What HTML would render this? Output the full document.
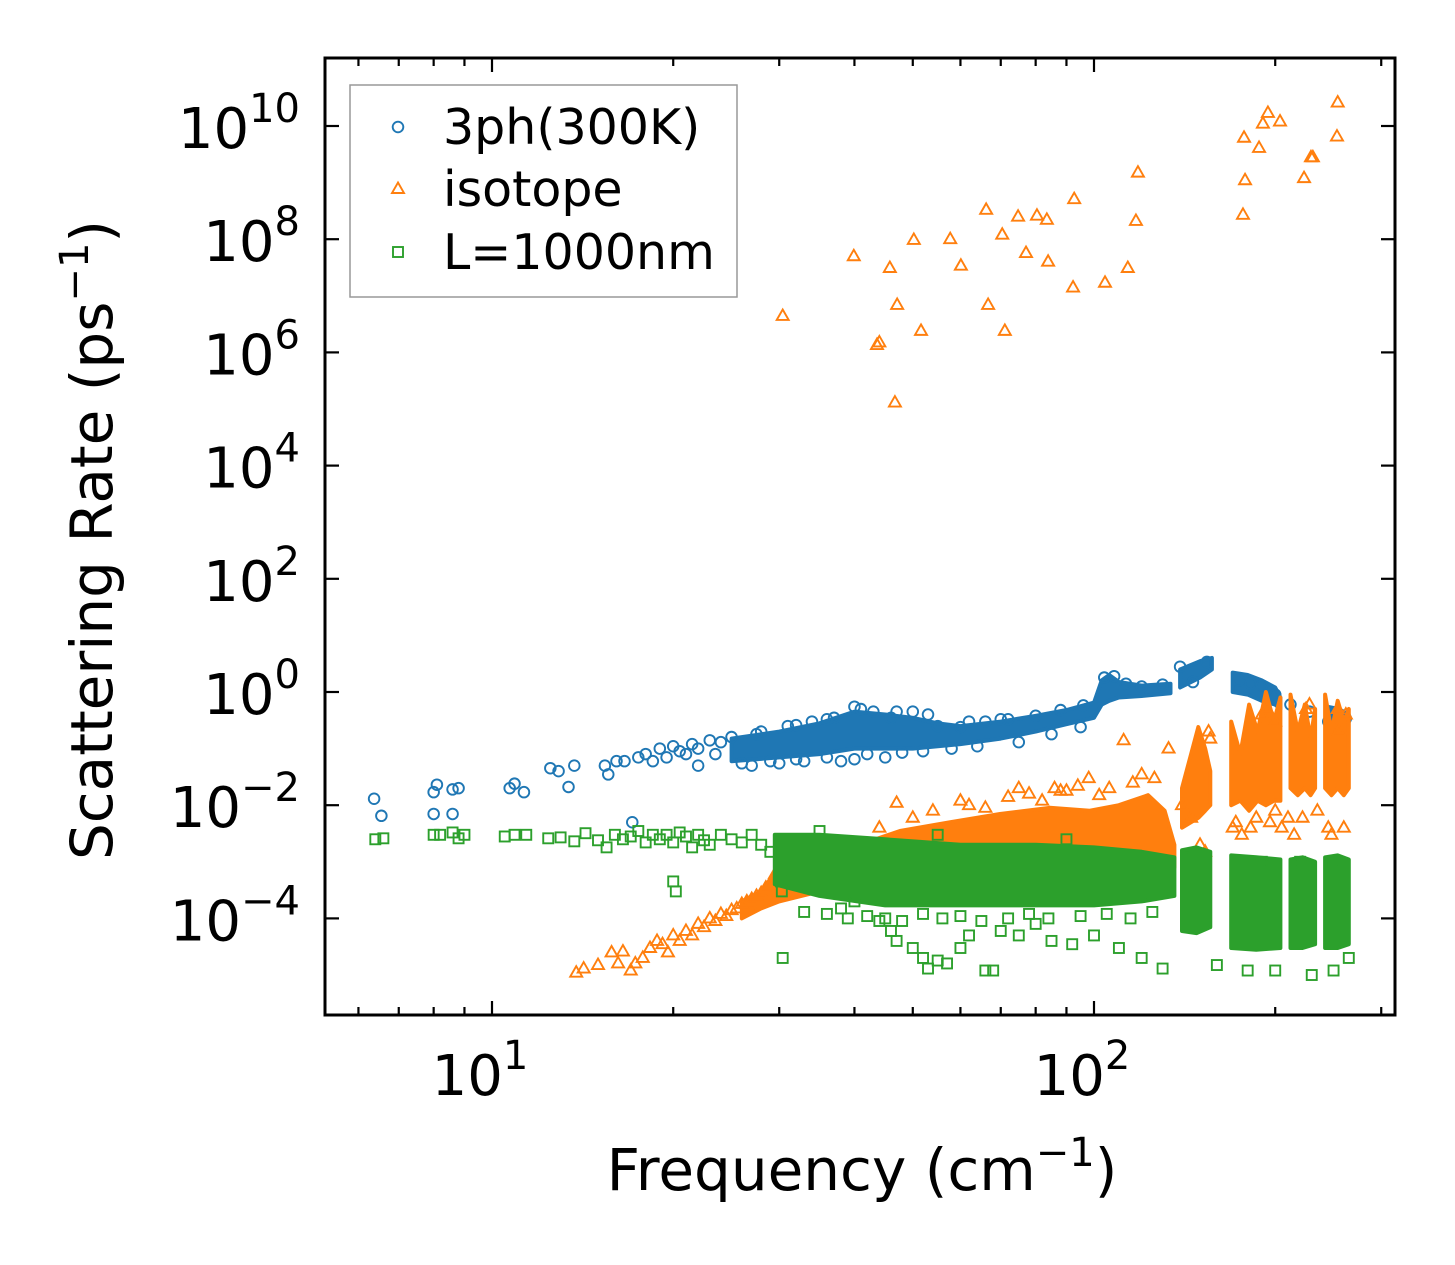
<!DOCTYPE html>
<html><head><meta charset="utf-8"><style>
html,body{margin:0;padding:0;background:#fff;}
svg text{font-family:"DejaVu Sans","Liberation Sans",sans-serif;fill:#000;}
</style></head><body>
<svg id="chart" width="1455" height="1265" viewBox="0 0 1455 1265" xmlns="http://www.w3.org/2000/svg" style="position:absolute;left:0;top:0">
<rect width="1455" height="1265" fill="#fff"/>
<g id="marks"></g>
<g id="axes"></g>
</svg>
<script>
// ---- data ----
const blueF=[6.37,6.55,8.0,8.1,8.0,8.6,8.6,8.8,10.7,10.9,11.3,12.5,12.9,13.4,13.7,15.4,15.6,16.1,16.6,17.1,17.5,18,18.5,19,19.5,20,20.5,21,21.5,22,22,23,23.5,24,27,30,33,38,40,45,25,28,31,34,37,40,43,46,50,55,60,66,72,80,88,96,104,108,113,120,130,139,146,154,174,182,190,200,212,228,245,255,262,
26,29,32,36,42,48,52,58,64,75,85,95,27.5,32,36,41,47,53,62,70];
const blueR=[.013,.0065,.017,.023,.007,.007,.019,.02,.02,.024,.017,.045,.04,.021,.05,.05,.035,.06,.06,.005,.07,.08,.06,.1,.07,.11,.09,.08,.12,.1,.05,.14,.08,.13,.05,.055,.06,.06,.065,.07,.16,.2,.25,.3,.35,.55,.45,.35,.45,.25,.24,.3,.33,.38,.48,.58,1.8,1.9,1.4,1.25,1.35,2.8,1.5,3.4,1.6,1.4,1.3,.9,.6,.45,.3,.36,.34,
.055,.06,.065,.07,.08,.085,.09,.1,.11,.13,.18,.24,.18,.26,.33,.5,.45,.4,.3,.33];
const blueBandF=[[25,30,35,40,45,50,55,60,70,80,90,100,103,106,110,120,134],[139,150,157],[170,180,190,200,204],[244,255,265]];
const blueBandLo=[[.06,.07,.08,.1,.1,.1,.11,.12,.15,.2,.27,.35,.6,.7,.8,.85,.95],[1.2,1.8,2.5],[1.0,.9,.7,.6,.5],[.3,.3,.3]];
const blueBandHi=[[.15,.2,.28,.45,.4,.35,.28,.25,.3,.38,.48,.65,1.6,2,1.5,1.3,1.4],[2.5,3.5,4],[2.2,2.0,1.6,1.2,.8],[.55,.5,.4]];

const isoF=[30.4,39.9,43.6,44.0,45.8,46.7,47.1,50.2,51.6,57.7,60.1,66.2,66.7,70.4,71.1,74.8,77.1,80.4,83.5,83.9,92.7,92.3,104.3,113.8,117.4,118.3,176.8,178.2,177.5,188,190.8,194.5,203.7,223.3,229.3,231,254,253.3,
13.8,14.2,15,15.8,16.2,16.5,17,17.3,17.8,18.3,18.8,19.2,19.6,20,20.5,21,21.5,22,22.5,23,23.5,24,24.5,25,25.5,26,26.5,27,27.5,28,28.5,29,29.5,
47,112,98,133,155,156,190,194,200,225,228,254,262,255,60,75,88,120,170,210,245,
44,50,54,62,66,72,78,82,86,90,94,102,106,116,126,140,145,
172,176,182,186,196,200,205,215,222,235,248,260,150,153];
const isoR=[4.4e6,5e7,1.35e6,1.5e6,3.1e7,1.3e5,6.9e6,9.7e7,2.4e6,1e8,3.4e7,3.3e8,6.9e6,1.2e8,2.4e6,2.5e8,5.7e7,2.6e8,2.2e8,4e7,5.1e8,1.4e7,1.7e7,3.1e7,2.1e8,1.5e9,2.7e8,1.1e9,6.2e9,4.1e9,1.1e10,1.7e10,1.2e10,1.2e9,2.8e9,2.8e9,2.6e10,6.5e9,
1.1e-5,1.3e-5,1.5e-5,2.5e-5,1.6e-5,2.6e-5,1.2e-5,1.6e-5,2e-5,3e-5,4e-5,3.5e-5,2.5e-5,5e-5,4e-5,6e-5,5e-5,8e-5,7e-5,1e-4,9e-5,1.2e-4,1.1e-4,1.4e-4,1.5e-4,1.8e-4,2e-4,2.2e-4,2.5e-4,2.8e-4,3.5e-4,4e-4,6e-4,
.011,.14,.03,.1,.2,.15,.4,.5,.3,.5,.6,.5,.4,.2,.012,.02,.018,.035,.004,.006,.004,
.004,.006,.008,.01,.009,.014,.016,.012,.02,.018,.022,.015,.02,.025,.03,.01,.006,
.005,.003,.004,.006,.005,.008,.004,.003,.006,.008,.003,.004,.002,.0015];
const isoBandF=[[26,28,30,35,40.8,47.6,57.7,69.8,84.4,98.4,110,123,131,136],[140,145,149,153,156],[169,175,181,187,193,199,204],[212,218,224,229,233],[242,248,254,260,265]];
const isoBandLo=[[1e-4,1.5e-4,2e-4,3e-4,4e-4,5e-4,6e-4,7e-4,7e-4,7e-4,7e-4,8e-4,8e-4,8e-4],[.004,.005,.006,.008,.01],[.01,.012,.008,.012,.01,.012,.012],[.02,.015,.02,.015,.02],[.02,.015,.02,.015,.02]];
const isoBandHi=[[2e-4,3e-4,8e-4,1.3e-3,2e-3,3.5e-3,5e-3,7e-3,9e-3,8e-3,1e-2,1.5e-2,8e-3,2e-3],[.02,.08,.24,.1,.04],[.3,.08,.6,.2,1,.3,.8],[.9,.2,.6,.15,.5],[.9,.2,.7,.3,.5]];

const bndF=[6.4,6.6,8,8.2,8.6,8.8,9,10.5,10.9,11.4,12.4,13,13.7,14.3,15,15.5,16,16.5,17,17.5,18,18.5,19,19.5,20,20.5,21,21.5,22,22.5,23,24,25,26,27,28,20,20.2,29,
30.4,30.2,30.3,38,40,44,46,47,50,52,53,55,57,60,62,66,68,70,75,80,85,92,100,110,120,130,160,180,200,230,250,265,35,55,90,145,190,220,250,
33,36,39,42,45,48,52,56,60,65,72,78,84,95,105,115,125];
const bndR=[2.5e-3,2.6e-3,3e-3,3e-3,3.3e-3,2.6e-3,3e-3,2.8e-3,3e-3,3e-3,2.6e-3,2.7e-3,2.3e-3,3.2e-3,2.4e-3,1.8e-3,3e-3,2.5e-3,2.8e-3,3.5e-3,2.2e-3,3e-3,2.5e-3,3e-3,2.2e-3,3.3e-3,2.8e-3,1.8e-3,3e-3,2.4e-3,2e-3,3e-3,2.5e-3,2.2e-3,3e-3,2e-3,4.5e-4,3e-4,1.5e-3,
2e-5,4.5e-4,3e-4,1.5e-4,2e-4,9e-5,6e-5,4e-5,3e-5,2e-5,1.3e-5,1.8e-5,1.6e-5,3e-5,5e-5,1.2e-5,1.2e-5,6e-5,5e-5,8e-5,4e-5,3.5e-5,5e-5,3e-5,2e-5,1.3e-5,1.5e-5,1.2e-5,1.2e-5,1e-5,1.2e-5,2e-5,3.5e-3,3e-3,2.5e-3,1.2e-3,1e-3,1e-3,1e-3,
1.3e-4,1.2e-4,1e-4,1.1e-4,1e-4,9e-5,1.2e-4,1e-4,1.1e-4,9e-5,1e-4,1.2e-4,1e-4,1.1e-4,1.2e-4,1e-4,1.3e-4];
const bndBandF=[[29.5,35,45,60,80,100,120,136],[140,148,156],[169,186,204],[212,222,233],[242,254,265]];
const bndBandLo=[[4e-4,2.5e-4,1.7e-4,1.7e-4,1.7e-4,1.7e-4,2e-4,2.5e-4],[6e-5,5.5e-5,7e-5],[3e-5,2.8e-5,3e-5],[3e-5,3e-5,3.5e-5],[3e-5,3e-5,3.5e-5]];
const bndBandHi=[[3e-3,3e-3,2.5e-3,2e-3,2e-3,1.8e-3,1.5e-3,1.2e-3],[1.6e-3,1.8e-3,1.5e-3],[1.3e-3,1.2e-3,1.1e-3],[1.1e-3,1.2e-3,1e-3],[1.2e-3,1.3e-3,1.1e-3]];

const xTickVals=[10,100];
const xTickExp=['1','2'];
const yTickExp=[-4,-2,0,2,4,6,8,10];

// ---- axes functions ----
const L=325,R=1395,T=58,B=1015;
function xs(f){return 492+602*(Math.log10(f)-1);}
function ys(v){return 692-56.6*Math.log10(v);}
const NS='http://www.w3.org/2000/svg';
function mk(tag,attrs,parent){const e=document.createElementNS(NS,tag);for(const k in attrs)e.setAttribute(k,attrs[k]);parent.appendChild(e);return e;}
const marks=document.getElementById('marks');
const axes=document.getElementById('axes');
const clip=mk('clipPath',{id:'pc'},document.getElementById('chart'));
mk('rect',{x:L,y:T,width:R-L,height:B-T},clip);
marks.setAttribute('clip-path','url(#pc)');

const C={blue:'#1f77b4',orange:'#ff7f0e',green:'#2ca02c'};
function band(Fs,Lo,Hi,col,name){
  Fs.forEach((fa,i)=>{
    let d='M'+fa.map((f,j)=>xs(f).toFixed(1)+','+ys(Hi[i][j]).toFixed(1)).join('L');
    d+='L'+fa.slice().reverse().map((f,j)=>xs(f).toFixed(1)+','+ys(Lo[i][fa.length-1-j]).toFixed(1)).join('L')+'Z';
    const p=mk('path',{d:d,fill:col,stroke:col,'stroke-width':4,'stroke-linejoin':'round'},marks);
    
    
  });
}
function circ(F,Rr,col,name){F.forEach((f,i)=>{const e=mk('circle',{cx:xs(f),cy:ys(Rr[i]),r:5.3,fill:'none',stroke:col,'stroke-width':1.9},marks);
  
  });}
function tri(F,Rr,col,name){F.forEach((f,i)=>{const x=xs(f),y=ys(Rr[i]);const e=mk('path',{d:`M${x},${y-6.5}L${x+6},${y+4}L${x-6},${y+4}Z`,fill:'none',stroke:col,'stroke-width':1.9},marks);
  
  });}
function sq(F,Rr,col,name){F.forEach((f,i)=>{const x=xs(f),y=ys(Rr[i]);const e=mk('rect',{x:x-5,y:y-5,width:10,height:10,fill:'none',stroke:col,'stroke-width':1.9},marks);
  
  });}

band(blueBandF,blueBandLo,blueBandHi,C.blue,'3ph');
circ(blueF,blueR,C.blue,'3ph');
band(isoBandF,isoBandLo,isoBandHi,C.orange,'isotope');
tri(isoF,isoR,C.orange,'isotope');
band(bndBandF,bndBandLo,bndBandHi,C.green,'boundary');
sq(bndF,bndR,C.green,'boundary');

const fr=mk('rect',{x:L,y:T,width:R-L,height:B-T,fill:'none',stroke:'#000','stroke-width':3},axes);


for(let d=0;d<3;d++){for(let m=1;m<10;m++){const f=m*Math.pow(10,d);const x=xs(f);if(x<L+2||x>R-2)continue;const len=m===1?14:8;
  mk('line',{x1:x,y1:B,x2:x,y2:B-len,stroke:'#000','stroke-width':2.2},axes);
  mk('line',{x1:x,y1:T,x2:x,y2:T+len,stroke:'#000','stroke-width':2.2},axes);}}
xTickVals.forEach((v,i)=>{const t=mk('text',{x:xs(v)-12,y:1095,'font-size':56,'text-anchor':'middle'},axes);t.textContent='10';
  
  
  const s=mk('tspan',{dy:-26,'font-size':40},t);s.textContent=xTickExp[i];});
yTickExp.forEach(e=>{const y=ys(Math.pow(10,e));
  mk('line',{x1:L,y1:y,x2:L+14,y2:y,stroke:'#000','stroke-width':2.2},axes);
  mk('line',{x1:R,y1:y,x2:R-14,y2:y,stroke:'#000','stroke-width':2.2},axes);
  const t=mk('text',{x:300,y:y+22,'font-size':56,'text-anchor':'end'},axes);
  
  
  const a=mk('tspan',{},t);a.textContent='10';
  const s=mk('tspan',{dy:-26,'font-size':40},t);s.textContent=(e<0?'\u2212':'')+Math.abs(e);});
</script>
<svg width="1455" height="1265" xmlns="http://www.w3.org/2000/svg" style="position:absolute;left:0;top:0">
<g>
<rect x="350" y="85" width="387" height="212" fill="#fff" fill-opacity="0.8" stroke="#999" stroke-width="1.5"/>
<circle cx="398" cy="127" r="5.3" fill="none" stroke="#1f77b4" stroke-width="1.9"/>
<text x="443" y="144" font-size="49">3ph(300K)</text>
<path d="M398,182.5L404,193L392,193Z" fill="none" stroke="#ff7f0e" stroke-width="1.9"/>
<text x="443" y="206" font-size="49">isotope</text>
<rect x="393" y="247" width="10" height="10" fill="none" stroke="#2ca02c" stroke-width="1.9"/>
<text x="443" y="269" font-size="49">L=1000nm</text>
</g>
<text x="862" y="1190" font-size="58" text-anchor="middle">Frequency (cm<tspan dy="-24" font-size="40">−1</tspan><tspan dy="24">)</tspan></text>
<text transform="translate(112,540) rotate(-90)" font-size="58" text-anchor="middle">Scattering Rate (ps<tspan dy="-24" font-size="40">−1</tspan><tspan dy="24">)</tspan></text>
</svg>
</body></html>
